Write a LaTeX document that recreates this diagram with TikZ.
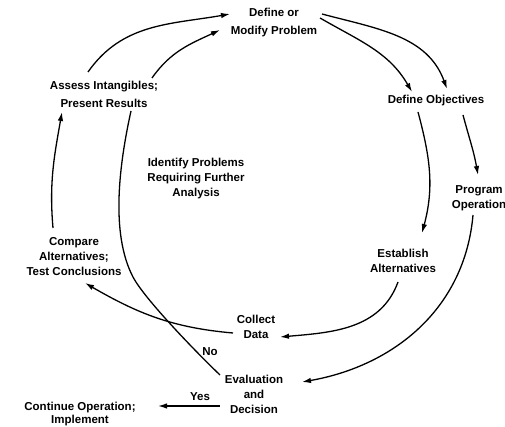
\documentclass[tikz,border=0pt]{standalone}
\usepackage{fontspec}
\setmainfont{Liberation Sans}
\usetikzlibrary{arrows.meta,calc}
\begin{document}
\begin{tikzpicture}[x=1pt,y=1pt,
  lbl/.style={inner sep=0pt,align=center,font=\bfseries\fontsize{11.5}{15}\selectfont},
  wide/.style={font=\bfseries\fontsize{11.5}{18}\selectfont},
  tight/.style={font=\bfseries\fontsize{11.5}{13}\selectfont},
  conn/.style={line width=1.3pt,-{Latex[length=9pt,width=5.5pt]}},
  plain/.style={line width=1.3pt}]
\useasboundingbox (0,0) rectangle (505,427);
\node[lbl,wide] (def) at (274,404) {Define or\\Modify Problem};
\node[lbl,wide] (ass) at (104,333) {Assess Intangibles;\\Present Results};
\node[lbl] (obj) at (436,326) {Define Objectives};
\node[lbl] (idp) at (196,248) {Identify Problems\\Requiring Further\\Analysis};
\node[lbl] (prog) at (479,229) {Program\\Operation};
\node[lbl] (est) at (403,166) {Establish\\Alternatives};
\node[lbl] (cmp) at (74,170) {Compare\\Alternatives;\\Test Conclusions};
\node[lbl] (col) at (256,100) {Collect\\Data};
\node[lbl] (no) at (210,75) {No};
\node[lbl] (eva) at (254,33) {Evaluation\\and\\Decision};
\node[lbl] (yes) at (200,30) {Yes};
\node[lbl,tight] (cont) at (80,13) {Continue Operation;\\Implement};

\draw[conn] ($(ass)+(-16,22)$) to[out=55,in=190] ($(def)+(-44,9)$);
\draw[conn] ($(ass)+(48,16)$) to[out=55,in=205] ($(def)+(-54,-7)$);
\draw[conn] ($(def)+(46,5)$) to[out=-30,in=120] ($(obj)+(-24,9)$);
\draw[conn] ($(def)+(48,9)$) to[out=-15,in=110] ($(obj)+(11,12)$);
\draw[conn] ($(obj)+(27,-14)$) to[out=-75,in=100] ($(prog)+(-1,23)$);
\draw[conn] ($(obj)+(-18,-11)$) to[out=-75,in=75] ($(est)+(19,28)$);
\draw[conn] ($(prog)+(-6,-17)$) to[out=-95,in=10] ($(eva)+(48,12)$);
\draw[conn] ($(est)+(-5,-21)$) to[out=-110,in=5] ($(col)+(24,-10)$);
\draw[conn] ($(col)+(-23,-6)$) to[out=175,in=-30] ($(cmp)+(11,-26)$);
\draw[conn] ($(cmp)+(-21,29)$) to[out=95,in=-100] ($(ass)+(-42,-18)$);
\draw[plain] ($(eva)+(-34,19)$) .. controls (197,74) and (144.5,128) .. (133,150)
  .. controls (110,194) and (119.5,264) .. ($(ass)+(27,-17)$);
\draw[conn] ($(eva)+(-34,-12)$) -- ($(cont)+(78,8)$);
\end{tikzpicture}
\end{document}
